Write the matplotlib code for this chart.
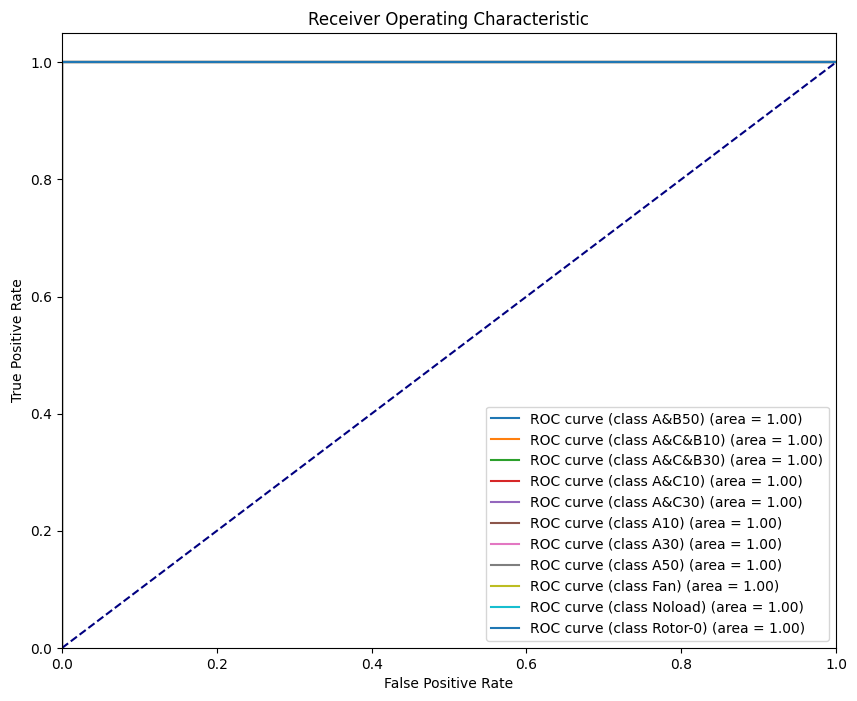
import numpy as np
import matplotlib
matplotlib.use('Agg')
import matplotlib.pyplot as plt

# classes and ROC points (every class is perfectly separated)
classes = ['A&B50', 'A&C&B10', 'A&C&B30', 'A&C10', 'A&C30',
           'A10', 'A30', 'A50', 'Fan', 'Noload', 'Rotor-0']
fpr = [[0.0, 0.0, 1.0] for _ in classes]
tpr = [[0.0, 1.0, 1.0] for _ in classes]
roc_auc = [1.00] * len(classes)

fig = plt.figure(figsize=(8.57, 7.01), dpi=100)
ax = fig.add_axes([0.0723, 0.0756, 0.9032, 0.8773])

for i, nome in enumerate(classes):
    ax.plot(fpr[i], tpr[i], lw=1.5,
            label=f'ROC curve (class {nome}) (area = {roc_auc[i]:0.2f})')

ax.plot([0, 1], [0, 1], color='navy', lw=1.5, linestyle='--')
ax.set_xlim([0.0, 1.0])
ax.set_ylim([0.0, 1.05])
ax.set_xlabel('False Positive Rate')
ax.set_ylabel('True Positive Rate')
ax.set_title('Receiver Operating Characteristic')
ax.legend(loc='lower right')

fig.savefig('out.png', dpi=100)
